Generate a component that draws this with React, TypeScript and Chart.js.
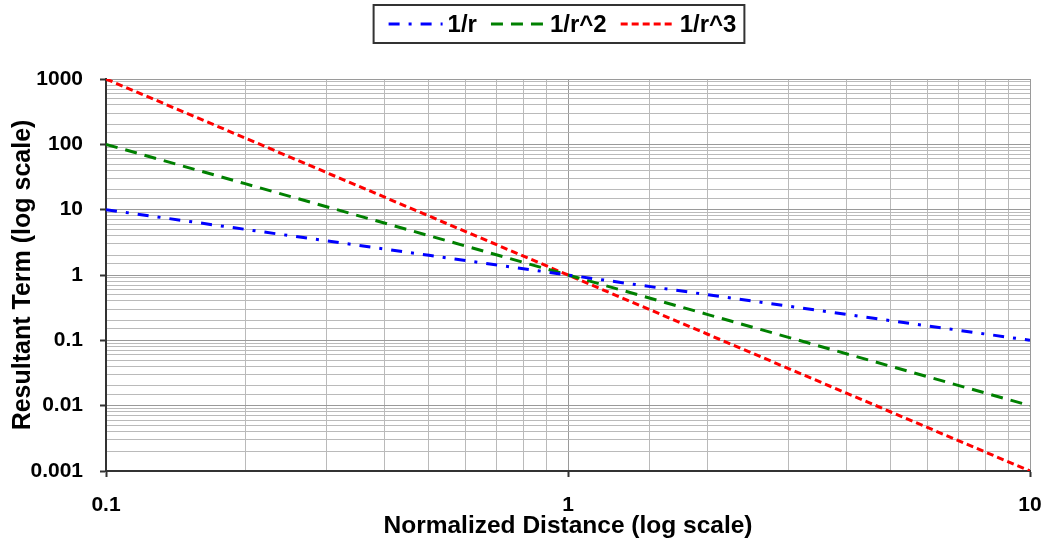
import React, { useEffect, useRef } from 'react';
import { Chart, registerables } from 'chart.js';

Chart.register(...registerables);

// ---- data ----
const distances = [0.1, 0.2, 0.5, 1, 2, 5, 10];
const inverseR = [10, 5, 2, 1, 0.5, 0.2, 0.1];
const inverseR2 = [100, 25, 4, 1, 0.25, 0.04, 0.01];
const inverseR3 = [1000, 125, 8, 1, 0.125, 0.008, 0.001];
const seriesLabels = ['1/r', '1/r^2', '1/r^3'];
const xTickLabels = ['0.1', '1', '10'];
const yTickLabels = ['0.001', '0.01', '0.1', '1', '10', '100', '1000'];
const xTitle = 'Normalized Distance (log scale)';
const yTitle = 'Resultant Term (log scale)';

const FONT = '"Liberation Sans", Arial, Helvetica, sans-serif';

function isDecade(v: number) {
  const l = Math.log10(v);
  return Math.abs(l - Math.round(l)) < 1e-6;
}

function decadeLabel(v: number, labels: string[]) {
  if (!isDecade(v)) return '';
  const s = String(Number(Number(v).toPrecision(1)));
  return labels.includes(s) ? s : '';
}

const legendBox = {
  id: 'legendBox',
  afterDraw(chart: any) {
    const ctx = chart.ctx as CanvasRenderingContext2D;
    const ds = chart.data.datasets;
    ctx.save();
    ctx.font = `bold 24px ${FONT}`;
    const sample = 54, gapText = 5, gapItem = 14, padL = 15, padR = 8;
    const widths = ds.map((d: any) => ctx.measureText(d.label).width);
    let total = padL + padR + gapItem * (ds.length - 1);
    widths.forEach((w: number) => { total += sample + gapText + w; });
    const cx = 559, top = 5, h = 38;
    let x = cx - total / 2;
    ctx.strokeStyle = '#333';
    ctx.lineWidth = 2;
    ctx.setLineDash([]);
    ctx.strokeRect(x, top, total, h);
    x += padL;
    const cy = top + h / 2;
    ds.forEach((d: any, i: number) => {
      ctx.beginPath();
      ctx.setLineDash(d.borderDash);
      ctx.strokeStyle = d.borderColor;
      ctx.lineWidth = 3;
      ctx.moveTo(x, cy);
      ctx.lineTo(x + sample, cy);
      ctx.stroke();
      ctx.setLineDash([]);
      x += sample + gapText;
      ctx.fillStyle = '#000';
      ctx.textBaseline = 'middle';
      ctx.textAlign = 'left';
      ctx.fillText(d.label, x, cy + 1);
      x += widths[i] + gapItem;
    });
    ctx.restore();
  },
};

export default function App() {
  const ref = useRef<HTMLCanvasElement>(null);
  useEffect(() => {
    if (!ref.current) return;
    const gridColor = (c: any) => (c.tick && isDecade(c.tick.value) ? '#9a9a9a' : '#bababa');
    const tickColor = (c: any) => (c.tick && isDecade(c.tick.value) ? '#333' : 'rgba(0,0,0,0)');
    const chart = new Chart(ref.current, {
      type: 'line',
      data: {
        labels: distances,
        datasets: [
          {
            label: seriesLabels[0],
            data: distances.map((x, i) => ({ x, y: inverseR[i] })),
            borderColor: '#0000ff',
            borderDash: [11, 9, 3, 9],
            borderWidth: 3,
            pointRadius: 0,
            fill: false,
            tension: 0,
          },
          {
            label: seriesLabels[1],
            data: distances.map((x, i) => ({ x, y: inverseR2[i] })),
            borderColor: '#008000',
            borderDash: [12, 8],
            borderWidth: 3,
            pointRadius: 0,
            fill: false,
            tension: 0,
          },
          {
            label: seriesLabels[2],
            data: distances.map((x, i) => ({ x, y: inverseR3[i] })),
            borderColor: '#ff0000',
            borderDash: [7, 4],
            borderWidth: 3,
            pointRadius: 0,
            fill: false,
            tension: 0,
          },
        ],
      },
      options: {
        animation: false,
        responsive: true,
        maintainAspectRatio: false,
        layout: { padding: { top: 79, right: 16, bottom: 0, left: 0 } },
        plugins: {
          legend: { display: false },
          tooltip: { enabled: false },
        },
        scales: {
          x: {
            type: 'logarithmic',
            min: 0.1,
            max: 10,
            afterFit: (s: any) => {
              s.height = 71;
              s.paddingLeft = 0;
              s.paddingRight = 0;
            },
            ticks: {
              autoSkip: false,
              maxRotation: 0,
              minRotation: 0,
              padding: 16,
              color: '#000',
              font: { family: FONT, size: 21, weight: 'bold' },
              callback: (v: any) => decadeLabel(Number(v), xTickLabels),
            },
            grid: {
              color: gridColor,
              lineWidth: 1,
              tickLength: 6,
              tickColor: tickColor,
              tickWidth: 2,
            },
            border: { color: '#333', width: 2 },
            title: {
              display: true,
              text: xTitle,
              color: '#000',
              font: { family: FONT, size: 24.5, weight: 'bold' },
              padding: { top: 0, bottom: 1 },
            },
          },
          y: {
            type: 'logarithmic',
            min: 0.001,
            max: 1000,
            afterFit: (s: any) => {
              s.width = 106;
              s.paddingTop = 0;
              s.paddingBottom = 0;
            },
            ticks: {
              autoSkip: false,
              padding: 17,
              color: '#000',
              font: { family: FONT, size: 21, weight: 'bold' },
              callback: (v: any) => decadeLabel(Number(v), yTickLabels),
            },
            grid: {
              color: gridColor,
              lineWidth: 1,
              tickLength: 6,
              tickColor: tickColor,
              tickWidth: 2,
            },
            border: { color: '#333', width: 2 },
            title: {
              display: true,
              text: yTitle,
              color: '#000',
              font: { family: FONT, size: 25, weight: 'bold' },
              padding: { top: 8, bottom: 0 },
            },
          },
        },
      },
      plugins: [legendBox],
    } as any);
    return () => chart.destroy();
  }, []);
  return (
    <div style={{ position: 'absolute', left: 0, top: 0, width: 1046, height: 542 }}>
      <canvas ref={ref} />
    </div>
  );
}
